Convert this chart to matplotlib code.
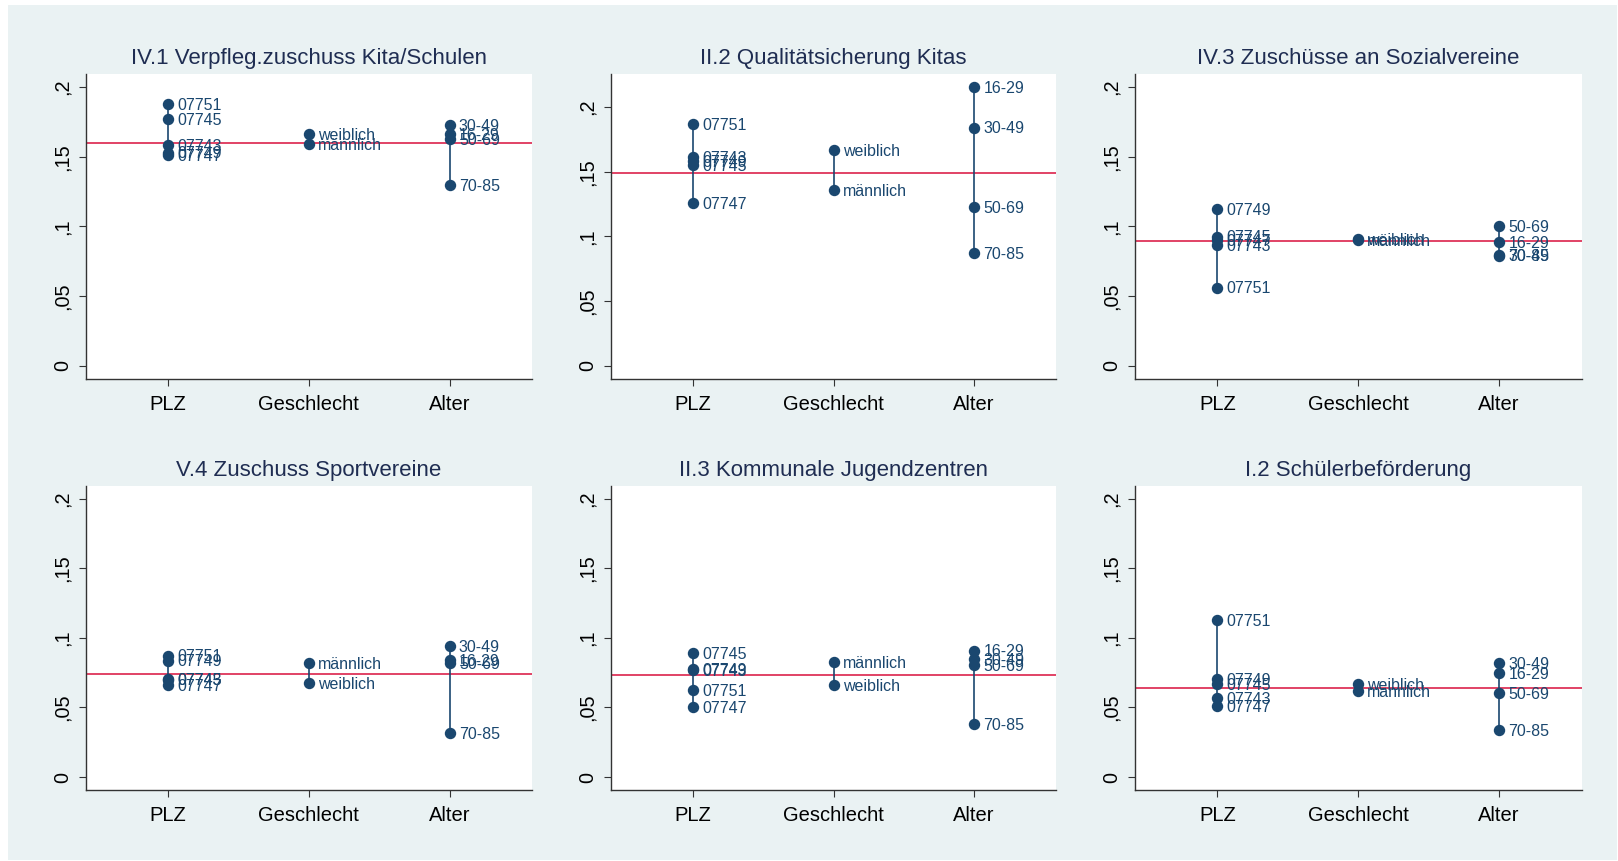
import matplotlib
matplotlib.use("Agg")
import matplotlib.pyplot as plt
from matplotlib.patches import Rectangle

# Groups on the x axis and the category labels inside each group
groups = ["PLZ", "Geschlecht", "Alter"]
plz_labels = ["07743", "07745", "07747", "07749", "07751"]
sex_labels = ["weiblich", "männlich"]
age_labels = ["16-29", "30-49", "50-69", "70-85"]

titles = [
    "IV.1 Verpfleg.zuschuss Kita/Schulen",
    "II.2 Qualitätsicherung Kitas",
    "IV.3 Zuschüsse an Sozialvereine",
    "V.4 Zuschuss Sportvereine",
    "II.3 Kommunale Jugendzentren",
    "I.2 Schülerbeförderung",
]

# Shares per subgroup (one list per budget item)
plz_values = [
    [0.1585, 0.177, 0.151, 0.153, 0.188],
    [0.161, 0.155, 0.1255, 0.158, 0.187],
    [0.0866, 0.0928, 0.0904, 0.1127, 0.0562],
    [0.0705, 0.0700, 0.0660, 0.0837, 0.0873],
    [0.0770, 0.0890, 0.0502, 0.0778, 0.0627],
    [0.0567, 0.0665, 0.0507, 0.0706, 0.1130],
]
sex_values = [
    [0.166, 0.159],
    [0.1666, 0.1357],
    [0.0907, 0.0902],
    [0.0675, 0.0821],
    [0.0660, 0.0828],
    [0.0665, 0.0617],
]
age_values = [
    [0.166, 0.173, 0.163, 0.130],
    [0.2154, 0.1841, 0.1229, 0.0874],
    [0.0890, 0.0792, 0.1005, 0.0797],
    [0.0842, 0.0940, 0.0818, 0.0316],
    [0.0909, 0.0850, 0.0802, 0.0378],
    [0.0749, 0.0818, 0.0603, 0.0335],
]
overall_mean = [0.1602, 0.1491, 0.0895, 0.0739, 0.0735, 0.0639]

ytick_values = [0, 0.05, 0.1, 0.15, 0.2]
ytick_labels = ["0", ",05", ",1", ",15", ",2"]

NAVY = "#1a476f"
RED = "#d8103c"
BG = "#eaf2f3"
TITLE_C = "#1f2d52"
FONT = "Liberation Sans"

W, H = 1618, 861
fig = plt.figure(figsize=(W / 100, H / 100), dpi=100, facecolor="white")
fig.patches.append(Rectangle((8 / W, 1 / H), (W - 9) / W, (H - 6) / H,
                             transform=fig.transFigure, facecolor=BG,
                             edgecolor="none", zorder=-10))

# Plot-region boxes in pixels: left, right, top, bottom
col_lr = [(85.7, 532.1), (610.7, 1056.4), (1134.9, 1581.6)]
row_tb = [(74, 379), (485.7, 790)]

for i in range(6):
    r, c = divmod(i, 3)
    l, rr = col_lr[c]
    t, b = row_tb[r]
    ax = fig.add_axes([l / W, 1 - b / H, (rr - l) / W, (b - t) / H])
    ax.set_facecolor("white")

    sets = [(plz_labels, plz_values[i]),
            (sex_labels, sex_values[i]),
            (age_labels, age_values[i])]
    for gx, (labs, vals) in enumerate(sets, start=1):
        ax.vlines(gx, min(vals), max(vals), color=NAVY, lw=1.2, zorder=2)
        ax.plot([gx] * len(vals), vals, "o", color=NAVY, ms=7.2,
                mec=NAVY, zorder=3)
        for lab, v in zip(labs, vals):
            ax.annotate(lab, (gx, v), xytext=(6.6, -1.0),
                        textcoords="offset points", ha="left", va="center",
                        fontsize=11.5, color=NAVY, family=FONT, zorder=4)

    ax.axhline(overall_mean[i], color=RED, lw=1.1, zorder=1)

    all_vals = plz_values[i] + sex_values[i] + age_values[i]
    top = max(0.2, max(all_vals))
    pad = top * 0.0466
    ax.set_ylim(-pad, top + pad)
    ax.set_xlim(0.415, 3.585)

    ax.set_yticks(ytick_values)
    ax.set_yticklabels(ytick_labels, rotation=90, va="center",
                       fontsize=14.3, family=FONT)
    ax.set_xticks([1, 2, 3])
    ax.set_xticklabels(groups, fontsize=14.5, family=FONT)
    ax.tick_params(axis="y", length=5, width=0.8, pad=5.0, color="#333333")
    ax.tick_params(axis="x", length=5, width=0.8, pad=6.6, color="#333333")

    for s in ("top", "right"):
        ax.spines[s].set_visible(False)
    for s in ("left", "bottom"):
        ax.spines[s].set_color("#333333")
        ax.spines[s].set_linewidth(1.0)

    ax.annotate(titles[i], xy=(0.5, 1), xycoords="axes fraction",
                xytext=(0, 11.0), textcoords="offset points",
                ha="center", va="center", fontsize=16,
                color=TITLE_C, family=FONT)

fig.savefig("out.png", dpi=100, facecolor=fig.get_facecolor())
